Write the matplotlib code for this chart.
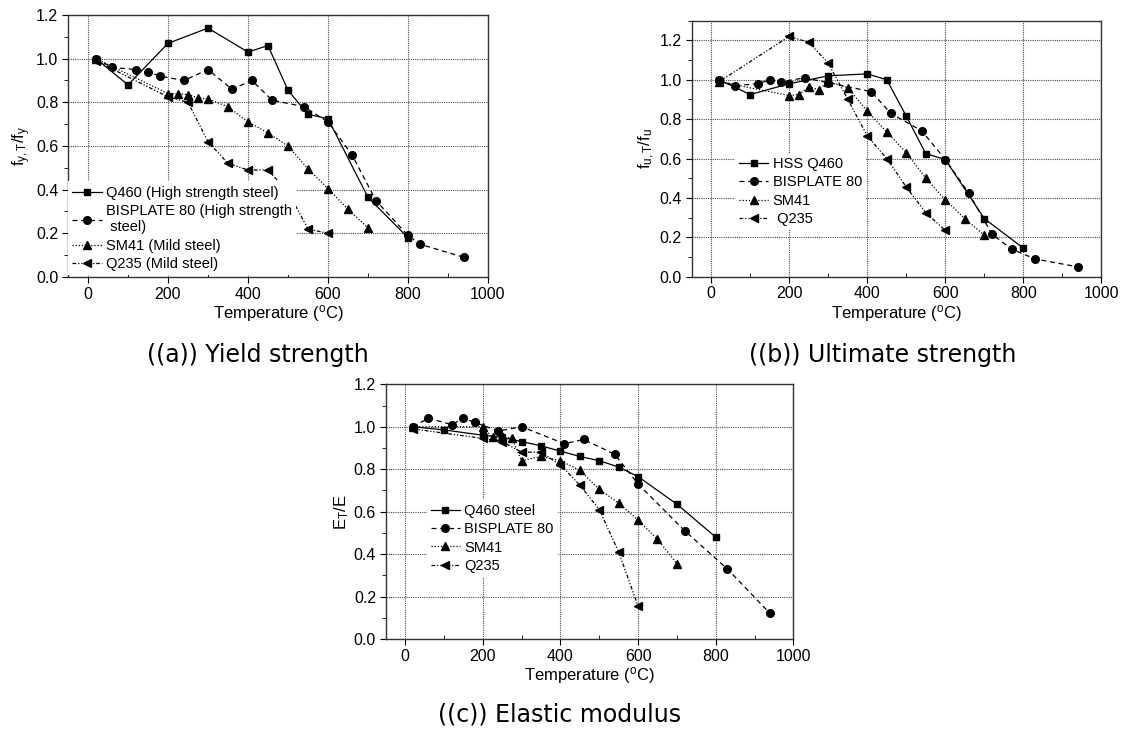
import matplotlib
matplotlib.use("Agg")
import matplotlib.pyplot as plt
from matplotlib.ticker import MultipleLocator

plt.rcParams["font.family"] = ["Liberation Sans", "DejaVu Sans"]
plt.rcParams["mathtext.fontset"] = "custom"
plt.rcParams["mathtext.rm"] = "Liberation Sans"
plt.rcParams["mathtext.it"] = "Liberation Sans:italic"

# (a) yield strength
a_q460_t = [20, 100, 200, 300, 400, 450, 500, 550, 600, 700, 800]
a_q460_v = [1.00, 0.88, 1.07, 1.14, 1.03, 1.06, 0.855, 0.745, 0.725, 0.365, 0.18]
a_bis_t = [20, 60, 120, 150, 180, 240, 300, 360, 410, 460, 540, 600, 660, 720, 800, 830, 940]
a_bis_v = [1.00, 0.96, 0.95, 0.94, 0.92, 0.90, 0.95, 0.86, 0.90, 0.81, 0.78, 0.71, 0.56, 0.35, 0.19, 0.15, 0.09]
a_sm41_t = [20, 200, 225, 250, 275, 300, 350, 400, 450, 500, 550, 600, 650, 700]
a_sm41_v = [1.00, 0.84, 0.84, 0.835, 0.82, 0.815, 0.78, 0.71, 0.66, 0.60, 0.495, 0.405, 0.31, 0.225]
a_q235_t = [20, 200, 250, 300, 350, 400, 450, 500, 550, 600]
a_q235_v = [0.99, 0.825, 0.80, 0.62, 0.52, 0.49, 0.49, 0.39, 0.22, 0.20]

# (b) ultimate strength
b_q460_t = [20, 100, 200, 300, 400, 450, 500, 550, 600, 700, 800]
b_q460_v = [1.00, 0.925, 0.98, 1.02, 1.03, 1.00, 0.815, 0.625, 0.595, 0.295, 0.145]
b_bis_t = [20, 60, 120, 150, 180, 240, 300, 410, 460, 540, 600, 660, 720, 770, 830, 940]
b_bis_v = [1.00, 0.97, 0.98, 1.00, 0.99, 1.01, 0.985, 0.94, 0.83, 0.74, 0.595, 0.425, 0.215, 0.14, 0.09, 0.05]
b_sm41_t = [20, 200, 225, 250, 275, 300, 350, 400, 450, 500, 550, 600, 650, 700]
b_sm41_v = [0.99, 0.92, 0.925, 0.965, 0.95, 0.99, 0.96, 0.84, 0.735, 0.63, 0.50, 0.39, 0.295, 0.21]
b_q235_t = [20, 200, 250, 300, 350, 400, 450, 500, 550, 600]
b_q235_v = [0.99, 1.22, 1.19, 1.085, 0.90, 0.715, 0.60, 0.455, 0.325, 0.235]

# (c) elastic modulus
c_q460_t = [20, 100, 200, 250, 300, 350, 400, 450, 500, 550, 600, 700, 800]
c_q460_v = [1.00, 0.985, 0.96, 0.95, 0.93, 0.91, 0.885, 0.86, 0.84, 0.81, 0.765, 0.635, 0.48]
c_bis_t = [20, 60, 120, 150, 180, 240, 300, 410, 460, 540, 600, 720, 830, 940]
c_bis_v = [1.00, 1.04, 1.01, 1.04, 1.02, 0.98, 1.00, 0.92, 0.94, 0.87, 0.73, 0.51, 0.33, 0.12]
c_sm41_t = [20, 200, 225, 250, 275, 300, 350, 400, 450, 500, 550, 600, 650, 700]
c_sm41_v = [1.00, 1.00, 0.95, 0.955, 0.945, 0.84, 0.86, 0.84, 0.795, 0.705, 0.64, 0.56, 0.47, 0.355]
c_q235_t = [20, 200, 250, 300, 350, 400, 450, 500, 550, 600]
c_q235_v = [0.99, 0.945, 0.93, 0.88, 0.88, 0.82, 0.725, 0.61, 0.41, 0.155]

labels_a = ["Q460 (High strength steel)", "BISPLATE 80 (High strength\n steel)",
            "SM41 (Mild steel)", "Q235 (Mild steel)"]
labels_b = ["HSS Q460", "BISPLATE 80", "SM41", " Q235"]
labels_c = ["Q460 steel", "BISPLATE 80", "SM41", "Q235"]

styles = [
    dict(ls="-", marker="s", ms=5),
    dict(ls=(0, (4, 3)), marker="o", ms=5.5),
    dict(ls=(0, (1, 1.5)), marker="^", ms=6),
    dict(ls=(0, (3, 1.5, 1, 1.5, 1, 1.5)), marker="<", ms=6),
]


def tracer(ax, series, labels, ylim, ylabel, leg_anchor):
    for (t, v), st, lab in zip(series, styles, labels):
        ax.plot(t, v, color="black", lw=0.9, label=lab, **st)
    ax.set_xlim(-50, 1000)
    ax.set_ylim(*ylim)
    ax.xaxis.set_major_locator(MultipleLocator(200))
    ax.xaxis.set_minor_locator(MultipleLocator(100))
    ax.yaxis.set_major_locator(MultipleLocator(0.2))
    ax.yaxis.set_minor_locator(MultipleLocator(0.1))
    ax.yaxis.set_major_formatter(plt.FormatStrFormatter("%.1f"))
    ax.tick_params(which="major", direction="out", length=4, labelsize=11.5, pad=3)
    ax.tick_params(axis="x", which="minor", direction="in", length=3)
    ax.tick_params(axis="y", which="minor", direction="out", length=3)
    ax.tick_params(which="both", top=False, right=False)
    ax.grid(True, which="major", color="0.3", ls=(0, (1, 1)), lw=0.8)
    ax.set_axisbelow(True)
    for s in ax.spines.values():
        s.set_linewidth(1.0)
        s.set_color("0.2")
    ax.set_xlabel(r"Temperature ($^{\mathrm{o}}$C)", fontsize=12, labelpad=1)
    ax.set_ylabel(ylabel, fontsize=12, labelpad=2)
    leg = ax.legend(loc="upper left", bbox_to_anchor=leg_anchor, fontsize=10.5,
                    handlelength=2.0, handletextpad=0.3, labelspacing=0.3,
                    borderpad=0.3, fancybox=False, framealpha=1,
                    edgecolor="none", borderaxespad=0)
    return leg


fig = plt.figure(figsize=(11.22, 7.31), dpi=100)

ax_a = fig.add_axes([0.0606, 0.6211, 0.3743, 0.3584])
tracer(ax_a,
       [(a_q460_t, a_q460_v), (a_bis_t, a_bis_v), (a_sm41_t, a_sm41_v), (a_q235_t, a_q235_v)],
       labels_a, (0, 1.2), r"f$_{\mathrm{y,T}}$/f$_{\mathrm{y}}$", (0.0, 0.365))

ax_b = fig.add_axes([0.6165, 0.6215, 0.3651, 0.3502])
tracer(ax_b,
       [(b_q460_t, b_q460_v), (b_bis_t, b_bis_v), (b_sm41_t, b_sm41_v), (b_q235_t, b_q235_v)],
       labels_b, (0, 1.3), r"f$_{\mathrm{u,T}}$/f$_{\mathrm{u}}$", (0.105, 0.485))

ax_c = fig.add_axes([0.3438, 0.1259, 0.3633, 0.3484])
tracer(ax_c,
       [(c_q460_t, c_q460_v), (c_bis_t, c_bis_v), (c_sm41_t, c_sm41_v), (c_q235_t, c_q235_v)],
       labels_c, (0, 1.2), r"E$_{\mathrm{T}}$/E", (0.10, 0.548))

fig.text(0.230, 0.514, "((a)) Yield strength", ha="center", va="center",
         fontsize=17, family="DejaVu Sans")
fig.text(0.787, 0.514, "((b)) Ultimate strength", ha="center", va="center",
         fontsize=17, family="DejaVu Sans")
fig.text(0.499, 0.023, "((c)) Elastic modulus", ha="center", va="center",
         fontsize=17, family="DejaVu Sans")

fig.savefig("out.png", dpi=100, facecolor="white")
